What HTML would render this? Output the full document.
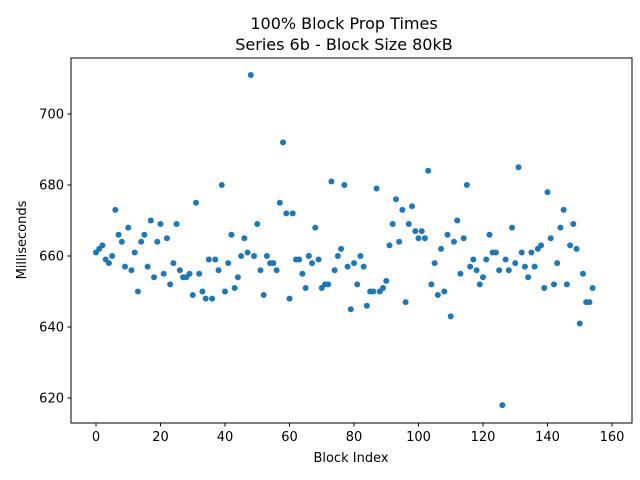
<!DOCTYPE html>
<html><head><meta charset="utf-8"><style>
body{margin:0;background:#fff;}
svg{display:block;font-family:"DejaVu Sans","Liberation Sans",sans-serif;}
</style></head><body>
<svg id="chart" width="640" height="480">
<text x="344" y="29" text-anchor="middle" font-size="16">100% Block Prop Times</text>
<text x="344" y="50" text-anchor="middle" font-size="16">Series 6b - Block Size 80kB</text>
<g id="xticks"></g>
<g id="yticks"></g>
<g id="points"></g>
<rect x="71" y="58" width="561" height="365" fill="none" stroke="#000" stroke-width="1"/>
<text x="351" y="462" text-anchor="middle" font-size="13">Block Index</text>
<text transform="translate(26,240) rotate(-90)" text-anchor="middle" font-size="13">Milliseconds</text>
</svg>
<script>
const values = [661,662,663,659,658,660,673,666,664,657,668,656,661,650,664,666,657,670,654,664,669,655,665,652,658,669,656,654,654,655,649,675,655,650,648,659,648,659,656,680,650,658,666,651,654,660,665,661,711,660,669,656,649,660,658,658,656,675,692,672,648,672,659,659,655,651,660,658,668,659,651,652,652,681,656,660,662,680,657,645,658,652,660,657,646,650,650,679,650,651,653,663,669,676,664,673,647,669,674,667,665,667,665,684,652,658,649,662,650,666,643,664,670,655,665,680,657,659,656,652,654,659,666,661,661,656,618,659,656,668,658,685,661,657,654,661,657,662,663,651,678,665,652,658,668,673,652,663,669,662,641,655,647,647,651];
const xTicks = [0,20,40,60,80,100,120,140,160];
const yTicks = [620,640,660,680,700];
const NS = "http://www.w3.org/2000/svg";
function xs(v){return 96 + v*3.225;}
function ys(v){return 114 + (700 - v)*3.55;}
const xg = document.getElementById('xticks'), yg = document.getElementById('yticks'), pg = document.getElementById('points');
xTicks.forEach(t=>{
  const l=document.createElementNS(NS,'line');
  l.setAttribute('x1',xs(t));l.setAttribute('x2',xs(t));l.setAttribute('y1',423);l.setAttribute('y2',426.5);l.setAttribute('stroke','#000');
  
  
  xg.appendChild(l);
  const tx=document.createElementNS(NS,'text');
  tx.setAttribute('x',xs(t));tx.setAttribute('y',441);tx.setAttribute('text-anchor','middle');tx.setAttribute('font-size','13');
  tx.textContent=t;
  
  
  xg.appendChild(tx);
});
yTicks.forEach(t=>{
  const l=document.createElementNS(NS,'line');
  l.setAttribute('x1',67.5);l.setAttribute('x2',71);l.setAttribute('y1',ys(t));l.setAttribute('y2',ys(t));l.setAttribute('stroke','#000');
  
  
  yg.appendChild(l);
  const tx=document.createElementNS(NS,'text');
  tx.setAttribute('x',64);tx.setAttribute('y',ys(t)+4.5);tx.setAttribute('text-anchor','end');tx.setAttribute('font-size','13');
  tx.textContent=t;
  
  
  yg.appendChild(tx);
});
values.forEach((v,i)=>{
  const c=document.createElementNS(NS,'circle');
  c.setAttribute('cx',xs(i));c.setAttribute('cy',ys(v));c.setAttribute('r',3);c.setAttribute('fill','#1f77b4');
  
  
  pg.appendChild(c);
});
</script>
</body></html>
